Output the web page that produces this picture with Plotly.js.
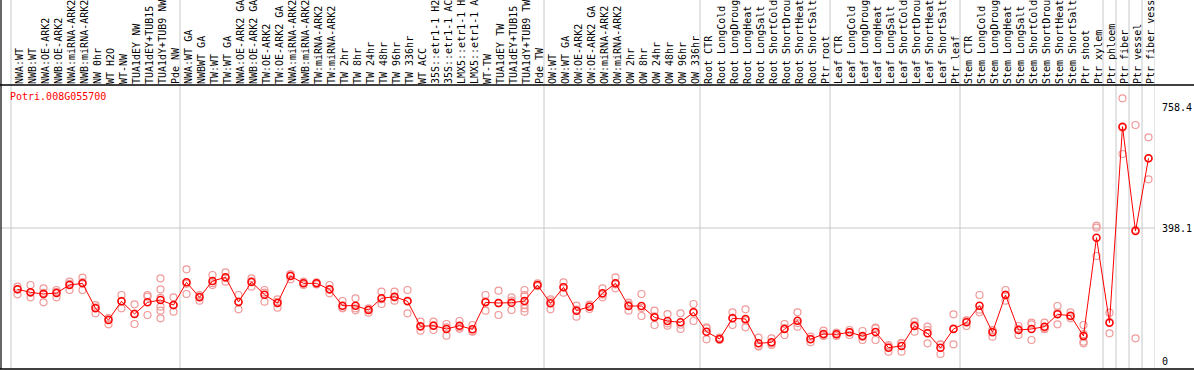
<!DOCTYPE html>
<html>
<head>
<meta charset="utf-8">
<script src="https://cdn.plot.ly/plotly-3.0.1.min.js"></script>
<style>html,body{margin:0;padding:0;background:#fff;}#chart{width:1194px;height:370px;}</style>
</head>
<body>
<div id="chart"></div>
<script>
const geneId = "Potri.008G055700";

const labels = [
 "NWA:WT","NWB:WT","NWA:OE-ARK2","NWB:OE-ARK2","NWA:miRNA-ARK2","NWB:miRNA-ARK2","NW 0hr","WT H2O","WT-NW","TUA1dEY NW","TUA1dEY+TUB15","TUA1dY+TUB9 NW","Pde NW",
 "NWA:WT GA","NWBWT GA","TW:WT","TW:WT GA","NWA:OE-ARK2 GA","NWB:OE-ARK2 GA","TW:OE-ARK2","TW:OE-ARK2 GA","NWA:miRNA-ARK2","NWB:miRNA-ARK2","TW:miRNA-ARK2","TW:miRNA-ARK2","TW 2hr","TW 8hr","TW 24hr","TW 48hr","TW 96hr","TW 336hr","WT ACC","35S::etr1-1 H2","35S::etr1-1 AC","LMX5::etr1-1 H","LMX5::etr1-1 A","WT-TW","TUA1dEY TW","TUA1dEY+TUB15","TUA1dY+TUB9 TW","Pde TW",
 "OW:WT","OW:WT GA","OW:OE-ARK2","OW:OE-ARK2 GA","OW:miRNA-ARK2","OW:miRNA-ARK2","OW 2hr","OW 8hr","OW 24hr","OW 48hr","OW 96hr","OW 336hr",
 "Root CTR","Root LongCold","Root LongDroug","Root LongHeat","Root LongSalt","Root ShortCold","Root ShortDrou","Root ShortHeat","Root ShortSalt","Ptr root",
 "Leaf CTR","Leaf LongCold","Leaf LongDroug","Leaf LongHeat","Leaf LongSalt","Leaf ShortCold","Leaf ShortDrou","Leaf ShortHeat","Leaf ShortSalt","Ptr leaf",
 "Stem CTR","Stem LongCold","Stem LongDroug","Stem LongHeat","Stem LongSalt","Stem ShortCold","Stem ShortDrou","Stem ShortHeat","Stem ShortSalt","Ptr shoot","Ptr xylem",
 "Ptr phloem","Ptr fiber","Ptr vessel","Ptr fiber vess"
];

const groupSizes = [13, 28, 12, 10, 10, 11, 1, 1, 1, 1];

const means = [
 215.5,206.6,201.6,204.6,228.4,233.4,158.9,124.2,179.8,142.0,176.8,183.7,168.8,
 236.4,191.7,240.3,251.2,177.8,237.3,199.6,174.8,255.2,233.4,233.4,215.5,166.9,166.9,154.0,188.7,193.7,179.8,105.3,107.3,97.4,107.3,96.4,176.8,174.8,175.8,180.8,228.4,
 173.8,221.5,152.0,163.9,203.6,233.4,165.9,165.9,132.1,121.2,117.2,147.0,
 89.4,67.6,129.1,127.2,54.7,57.7,97.4,122.2,66.6,82.5,
 81.5,87.5,76.5,88.4,41.8,46.8,106.3,84.5,41.8,97.4,
 117.2,166.9,87.5,198.6,94.4,97.4,104.3,141.1,137.1,76.5,369.4,
 116.2,699.9,389.2,605.6
];

const replicates = [
 [223.4,200.6,215],[228.4,191.7,205],[218.5,176.8,205],[213.5,191.7,208],[238.3,213.5,232],[250.2,213.5,237],[168.8,144,162],[129.1,111.3,130],[198.6,158.9,181],[170.8,112.3,143],[198.6,139.1,193.7],[248.3,215.5,163.9,152,129.1,190],[191.7,149,168],
 [275.1,201.6,232],[198.6,181.7,195],[258.2,228.4,234],[266.1,238.3,249],[198.6,156,179],[248.3,223.4,240],[213.5,178.8,206],[185.7,160.9,178],[260.2,245.3,260],[238.3,228.4,233],[236,230,233],[228.4,203.6,214],[180.8,158.9,161],[188.7,158.9,153],[158.9,146,157],[208.5,171.8,186],[208.5,181.7,191],[213.5,144,182],[119.2,92.4,104],[119.2,94.4,108],[112.3,77.5,102],[121.2,102.3,98],[109.3,89.4,91],[198.6,152,180],[211.5,139.1,174],[191.7,154,182],[213.5,198.6,168.8,158.9,149,195],[233,225,228],
 [185.7,156,180],[236.4,205.6,222],[166.9,134.1,155],[170,157,165],[218.5,191.7,200],[251.2,218.5,230],[175.8,152,170],[201.6,136.1,160],[152,109.3,135],[142,107.3,114],[144,97.4,110],[171.8,121.2,148],
 [99.4,66.6,102],[72,65,66],[147,109.3,131],[156,102.3,123],[71.6,47.7,45],[69.6,49.7,54],[112.3,79.5,100],[147,104.3,115],[74.5,57.7,68],[92.4,76.5,79],
 [86.5,76.5,82],[94.4,79.5,88],[91.4,64.6,74],[101.3,64.6,99],[29.9,49.7,46],[54.7,29.9,56],[119.2,89.4,110],[104.3,54.7,94],[51.7,22.9,51],[141.1,51.7,99],
 [122.2,106.3,123],[198.6,147,155],[94.4,74.5,93],[213.5,181.7,200],[106.3,79.5,97],[116.2,64.6,111],[116.2,99.4,97],[165.9,111.3,146],[147,129.1,135],[109.3,59.6,54.7,82],[405.1,399.1,314.8],
 [146,84.5,118],[784.3,618.5,697],[704.9,69.6,393],[668.2,543.1,605]
];

const yTickVals = [0, 398.1, 758.4];
const yTickText = ["0", "398.1", "758.4"];

const xIdx = labels.map((_, i) => i);
const repX = [], repY = [];
replicates.forEach((arr, i) => arr.forEach(v => { repX.push(i); repY.push(v); }));

const mono = "DejaVu Sans Mono, monospace";

const traces = [
 {x: repX, y: repY, type: "scatter", mode: "markers", hoverinfo: "skip",
  marker: {symbol: "circle-open", size: 7, color: "#f09a9a", line: {width: 1.2, color: "#f09a9a"}}},
 {x: xIdx, y: means, type: "scatter", mode: "lines+markers", hoverinfo: "skip",
  line: {color: "#ff0000", width: 1},
  marker: {symbol: "circle-open", size: 7, color: "#ff0000", line: {width: 1.5, color: "#ff0000"}}}
];

const shapes = [];
let b = -0.5;
shapes.push({type: "line", xref: "x", yref: "paper", x0: b, x1: b, y0: 0, y1: 1.31, line: {color: "#c8c8c8", width: 1}, layer: "below"});
groupSizes.forEach(n => {
  b += n;
  shapes.push({type: "line", xref: "x", yref: "paper", x0: b, x1: b, y0: 0, y1: 1.31, line: {color: "#c8c8c8", width: 1}, layer: "below"});
});
shapes.push({type: "line", xref: "paper", yref: "y", x0: 0, x1: 1, y0: 398.1, y1: 398.1, line: {color: "#c8c8c8", width: 1}, layer: "below"});
shapes.push({type: "line", xref: "paper", yref: "paper", x0: -0.01, x1: 1.04, y0: 1, y1: 1, line: {color: "#000", width: 1.5}});
shapes.push({type: "line", xref: "paper", yref: "paper", x0: -0.01, x1: 1.04, y0: 0, y1: 0, line: {color: "#000", width: 1.5}});
shapes.push({type: "line", xref: "paper", yref: "paper", x0: 0, x1: 0, y0: 0, y1: 1.31, line: {color: "#000", width: 1.2}});

const layout = {
  width: 1194, height: 370,
  margin: {l: 1, r: 39, t: 85, b: 1, pad: 0},
  paper_bgcolor: "#ffffff", plot_bgcolor: "rgba(0,0,0,0)",
  showlegend: false,
  xaxis: {range: [-1.269, 87.5], side: "top", tickmode: "array", tickvals: xIdx, ticktext: labels,
          tickangle: -90, ticks: "", showgrid: false, zeroline: false, showline: false, automargin: false,
          tickfont: {family: mono, size: 10, color: "#000"}, ticklabelstandoff: 0, ticklabelshift: 2, fixedrange: true},
  yaxis: {range: [-21.7, 824], side: "right", tickmode: "array", tickvals: yTickVals, ticktext: yTickText,
          ticks: "", showgrid: false, zeroline: false, showline: false, automargin: false,
          tickfont: {family: mono, size: 10, color: "#000"}, ticklabelstandoff: 6, fixedrange: true},
  shapes: shapes,
  annotations: [{text: geneId, xref: "paper", yref: "paper", x: 0.006, y: 0.958, xanchor: "left", yanchor: "middle",
                 showarrow: false, font: {family: mono, size: 10, color: "#ff0000"}}]
};

Plotly.newPlot("chart", traces, layout, {staticPlot: true, displayModeBar: false});
</script>
</body>
</html>
